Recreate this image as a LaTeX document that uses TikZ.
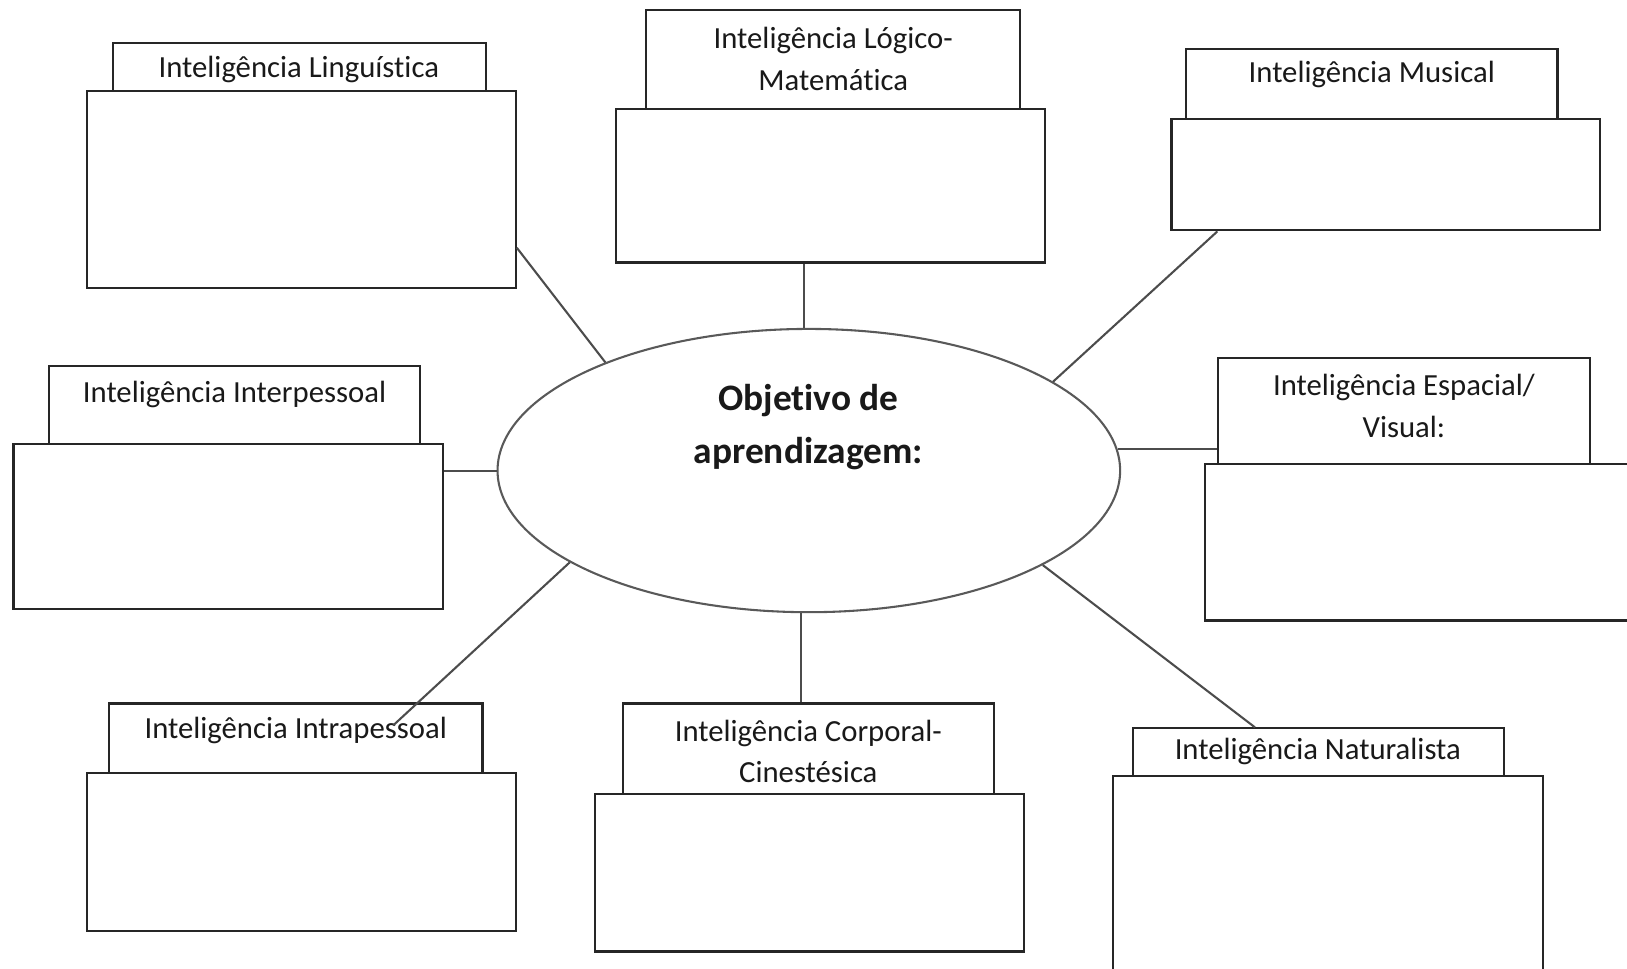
\documentclass[tikz,border=0pt]{standalone}
\usepackage{fontspec}
\setmainfont{Carlito}[RawFeature=-liga]
\usetikzlibrary{shapes.geometric,calc,fit}
\begin{document}
\begin{tikzpicture}[x=1pt,y=-1pt,
  lab/.style={draw=black!85, line width=2pt, fill=white, inner sep=0pt},
  cont/.style={draw=black!85, line width=2pt, fill=white, inner sep=0pt},
  txt/.style={font=\fontsize{29.6}{40}\selectfont, align=center, text=black!90, inner sep=0pt},
  ctxt/.style={font=\fontsize{36}{51}\selectfont\bfseries, align=center, text=black!90, inner sep=0pt},
  conn/.style={draw=black!70, line width=2pt},
]
\clip (0,0) rectangle (1568,933);
\fill[white] (0,0) rectangle (1568,933);

% central ellipse
\node[ellipse, draw=black!65, line width=2pt, fill=white, minimum width=600pt, minimum height=273pt, inner sep=0pt] (ell) at (779.5,453.5) {};
\node[ctxt] (ctext) at (779,412) {Objetivo de\\aprendizagem:};

% Linguistica
\node[lab, fit={(109,41) (468,88)}] (lingl) {};
\node[cont, fit={(84,88) (497,278)}] (lingb) {};
\node[txt] (lingt) at (288,67) {Inteligência Linguística};

% Logico-Matematica
\node[lab, fit={(623,10) (983,105)}] (logl) {};
\node[cont, fit={(594,105) (1007,253)}] (logb) {};
\node[txt] (logt) at (803,57) {Inteligência Lógico-\\Matemática};

% Musical
\node[lab, fit={(1143,47) (1501,115)}] (musl) {};
\node[cont, fit={(1129,115) (1542,222)}] (musb) {};
\node[txt] (must) at (1322,72) {Inteligência Musical};

% Interpessoal
\node[lab, fit={(47,353) (405,428)}] (interl) {};
\node[cont, fit={(13,428) (427,587)}] (interb) {};
\node[txt] (intert) at (226,380) {Inteligência Interpessoal};

% Espacial/Visual
\node[lab, fit={(1174,345) (1532,447)}] (espl) {};
\node[cont, fit={(1161,447) (1590,598)}] (espb) {};
\node[txt] (espt) at (1353,391) {Inteligência Espacial/\\Visual:};

% Intrapessoal
\node[lab, fit={(105,678) (465,745)}] (intral) {};
\node[cont, fit={(84,745) (497,897)}] (intrab) {};
\node[txt] (intrat) at (285,704) {Inteligência Intrapessoal};

% Corporal-Cinestesica
\node[lab, fit={(600,678) (958,765)}] (corpl) {};
\node[cont, fit={(573,765) (987,917)}] (corpb) {};
\node[txt] (corpt) at (779,724) {Inteligência Corporal-\\Cinestésica};

% Naturalista
\node[lab, fit={(1092,702) (1449,748)}] (natl) {};
\node[cont, fit={(1073,748) (1487,950)}] (natb) {};
\node[txt] (natt) at (1270,724) {Inteligência Naturalista};

% connectors
\coordinate (intraend) at (379,699);
\draw[conn] ($(lingb.south east)!0.21!(lingb.north east)$) -- (ell.152.3);
\draw[conn] (ell.92.74) -- (ell.92.74 |- logb.south);
\draw[conn] ($(musb.south west)!0.109!(musb.south east)$) -- (ell.20.1);
\draw[conn] (ell.4.65) -- (ell.4.65 -| espl.west);
\draw[conn] (ell.west) -- (ell.west -| interb.east);
\draw[conn] (ell.201.8) -- (intraend);
\draw[conn] (ell.267.26) -- (ell.267.26 |- corpl.north);
\draw[conn] (ell.338.8) -- ($(natl.north west)!0.33!(natl.north east)$);
\end{tikzpicture}
\end{document}
